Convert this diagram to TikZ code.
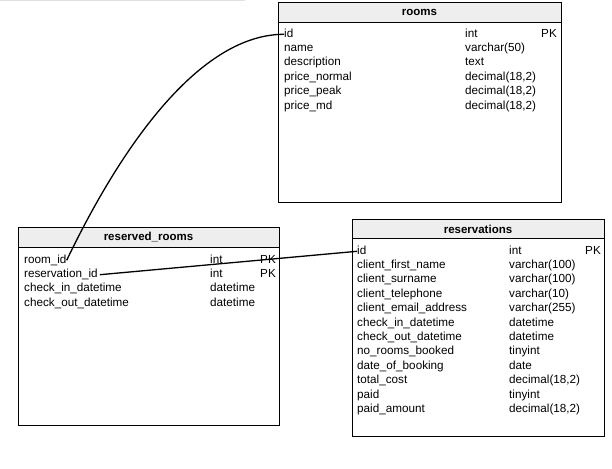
\documentclass[tikz,border=0pt]{standalone}
\usepackage{fontspec}
\setmainfont{Liberation Sans}
\definecolor{headgray}{HTML}{EEEEEE}
\tikzset{
  tbl/.style={draw, line width=0.8pt},
  hdr/.style={draw, line width=0.8pt, fill=headgray},
  fld/.style={anchor=west, inner sep=0pt, text height=8pt, text depth=2.5pt, font=\fontsize{11.7}{13}\selectfont},
  ttl/.style={inner sep=0pt, font=\fontsize{11.5}{13}\selectfont\bfseries}
}
\begin{document}
\begin{tikzpicture}[x=1pt,y=-1pt]
\useasboundingbox (0,0) rectangle (612,468);
\draw[black!12, line width=2pt] (0,0.5) -- (245,0.5);
% rooms
\draw[hdr] (278,2) rectangle (561,22);
\draw[tbl] (278,22) rectangle (561,202);
\node[ttl] (rooms) at (419.5,12.5) {rooms};
\foreach \n/\t [count=\i] in {id/int, name/varchar(50), description/text, price\_normal/{decimal(18,2)}, price\_peak/{decimal(18,2)}, price\_md/{decimal(18,2)}}{
  \node[fld] (rooms-\i) at (284,{34.3+14.4*(\i-1)}) {\n};
  \node[fld] (rooms-t\i) at (465,{34.3+14.4*(\i-1)}) {\t};
}
\node[fld, anchor=east] (rooms-pk) at (557,34.3) {PK};
% reserved_rooms
\draw[hdr] (18,227) rectangle (279,247);
\draw[tbl] (18,247) rectangle (279,425);
\node[ttl] (rr) at (148.5,237.5) {reserved\_rooms};
\foreach \n/\t [count=\i] in {room\_id/int, reservation\_id/int, check\_in\_datetime/datetime, check\_out\_datetime/datetime}{
  \node[fld] (rr-\i) at (24,{260.3+14.4*(\i-1)}) {\n};
  \node[fld] (rr-t\i) at (210,{260.3+14.4*(\i-1)}) {\t};
}
\node[fld, anchor=east] (rr-pk1) at (276,260.3) {PK};
\node[fld, anchor=east] (rr-pk2) at (276,274.7) {PK};
% reservations
\draw[hdr] (352,219) rectangle (604,238);
\draw[tbl] (352,238) rectangle (604,436);
\node[ttl] (res) at (478,229) {reservations};
\foreach \n/\t [count=\i] in {id/int, client\_first\_name/varchar(100), client\_surname/varchar(100), client\_telephone/varchar(10), client\_email\_address/varchar(255), check\_in\_datetime/datetime, check\_out\_datetime/datetime, no\_rooms\_booked/tinyint, date\_of\_booking/date, total\_cost/{decimal(18,2)}, paid/tinyint, paid\_amount/{decimal(18,2)}}{
  \node[fld] (res-\i) at (357,{251.3+14.4*(\i-1)}) {\n};
  \node[fld] (res-t\i) at (509,{251.3+14.4*(\i-1)}) {\t};
}
\node[fld, anchor=east] (res-pk) at (601,251.3) {PK};
% links
\draw[line width=1.3pt] (rooms-1.west) .. controls +(-80,0) and +(60,-125) .. (rr-1.east);
\draw[line width=1.3pt] ([xshift=2pt]rr-2.east) -- (res-1.west);
\end{tikzpicture}
\end{document}
